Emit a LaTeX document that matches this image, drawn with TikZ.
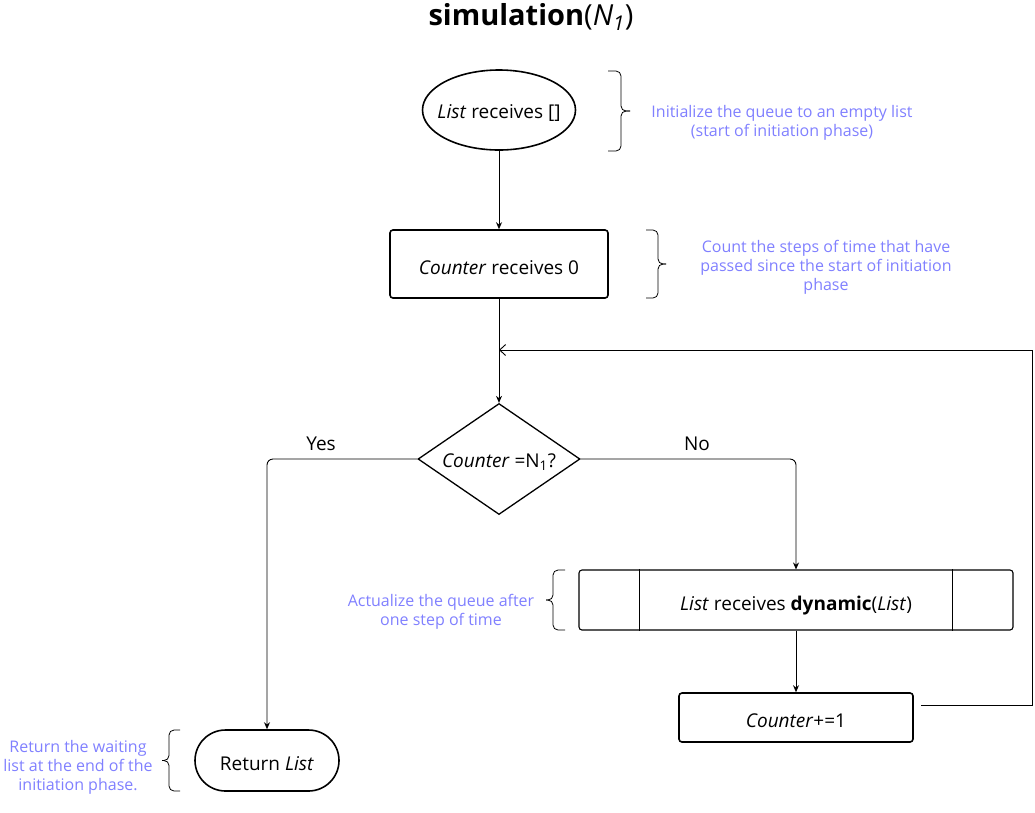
\documentclass[tikz,border=0pt]{standalone}
\usepackage{fontspec}
\setmainfont{Open Sans}
\usetikzlibrary{shapes.geometric,shapes.misc,arrows.meta}
\definecolor{note}{RGB}{128,128,255}
\newcommand\mybrace[5]{% base x, mid x, tip x, top y, bottom y
  \draw[bracestyle] (#1,#4) -- (#2,#4) -- (#2,{(#4+#5)/2}) -- (#3,{(#4+#5)/2});
  \draw[bracestyle] (#3,{(#4+#5)/2}) -- (#2,{(#4+#5)/2}) -- (#2,#5) -- (#1,#5);
}
\begin{document}
\begin{tikzpicture}[x=1pt,y=-1pt,
  main/.style={font=\fontsize{19}{22}\selectfont, text height=20pt, text depth=0pt},
  notetext/.style={font=\fontsize{16}{19}\selectfont, text=note, align=center, inner sep=0pt},
  thickbox/.style={draw, line width=1.6pt, rounded corners=3pt, inner sep=0pt, main},
  arr/.style={draw, line width=0.9pt, -{Stealth[length=7pt,width=6pt]}},
  fb/.style={draw, line width=0.9pt, -{Straight Barb[length=6pt,width=11pt]}},
  bracestyle/.style={line width=0.8pt, rounded corners=5pt},
]
\useasboundingbox (0,0) rectangle (1035,812);

% title
\node[font=\fontsize{29}{34}\selectfont, inner sep=0pt] (title) at (531,17) {\textbf{simulation}(\textit{N\textsubscript{1}})};

% nodes
\node[ellipse, draw, line width=1.6pt, minimum width=153pt, minimum height=80pt, inner xsep=-9pt, inner ysep=0pt, main, text height=17pt] (init) at (499,110) {\textit{List} receives []};
\node[thickbox, minimum width=218pt, minimum height=68pt] (cnt) at (499,264) {\textit{Counter} receives 0};
\node[diamond, draw, line width=1.3pt, aspect=1.46, minimum width=162pt, minimum height=111pt, inner sep=0pt, font=\fontsize{19}{22}\selectfont, text height=16pt, text depth=0pt] (dec) at (499,459) {\textit{Counter} =N\textsubscript{1}?};
\node[draw, line width=1.1pt, rounded corners=3pt, minimum width=434pt, minimum height=60pt, inner sep=0pt, main] (dyn) at (796,600) {\textit{List} receives \textbf{dynamic}(\textit{List})};
\draw[line width=1.1pt] ([xshift=61pt]dyn.north west) -- ([xshift=61pt]dyn.south west);
\draw[line width=1.1pt] ([xshift=-61pt]dyn.north east) -- ([xshift=-61pt]dyn.south east);
\node[thickbox, minimum width=234pt, minimum height=49pt] (inc) at (796,717.5) {\textit{Counter}+=1};
\node[rounded rectangle, draw, line width=1.6pt, minimum width=144pt, minimum height=61pt, inner sep=0pt, main] (ret) at (267,760.5) {Return \textit{List}};

% labels
\node[main, inner sep=0pt] (yes) at (321,440) {Yes};
\node[main, inner sep=0pt] (no) at (697,440) {No};

% connectors
\draw[arr] (init) -- (cnt);
\draw[arr] (cnt) -- (dec);
\draw[arr, rounded corners=6pt] (dec.west) -| (ret.north);
\draw[arr, rounded corners=6pt] (dec.east) -| (dyn.north);
\draw[arr] (dyn) -- (inc);
\coordinate (fbstart) at (921,705);
\coordinate (fbcorner) at (1032,350);
\coordinate (merge) at (499,350);
\draw[fb] (fbstart) -| (fbcorner) -- (merge);

% braces
\mybrace{608}{621}{630}{71}{151}
\mybrace{646}{658}{666}{230}{298}
\mybrace{565}{553}{546}{570}{630}
\mybrace{180}{169}{162}{730}{791}

% notes
\node[notetext] (n1) at (782,122.5) {Initialize the queue to an empty list\\(start of initiation phase)};
\node[notetext] (n2) at (826,267) {Count the steps of time that have\\passed since the start of initiation\\phase};
\node[notetext] (n3) at (441,611.5) {Actualize the queue after\\one step of time};
\node[notetext] (n4) at (78,767) {Return the waiting\\list at the end of the\\initiation phase.};
\end{tikzpicture}
\end{document}
